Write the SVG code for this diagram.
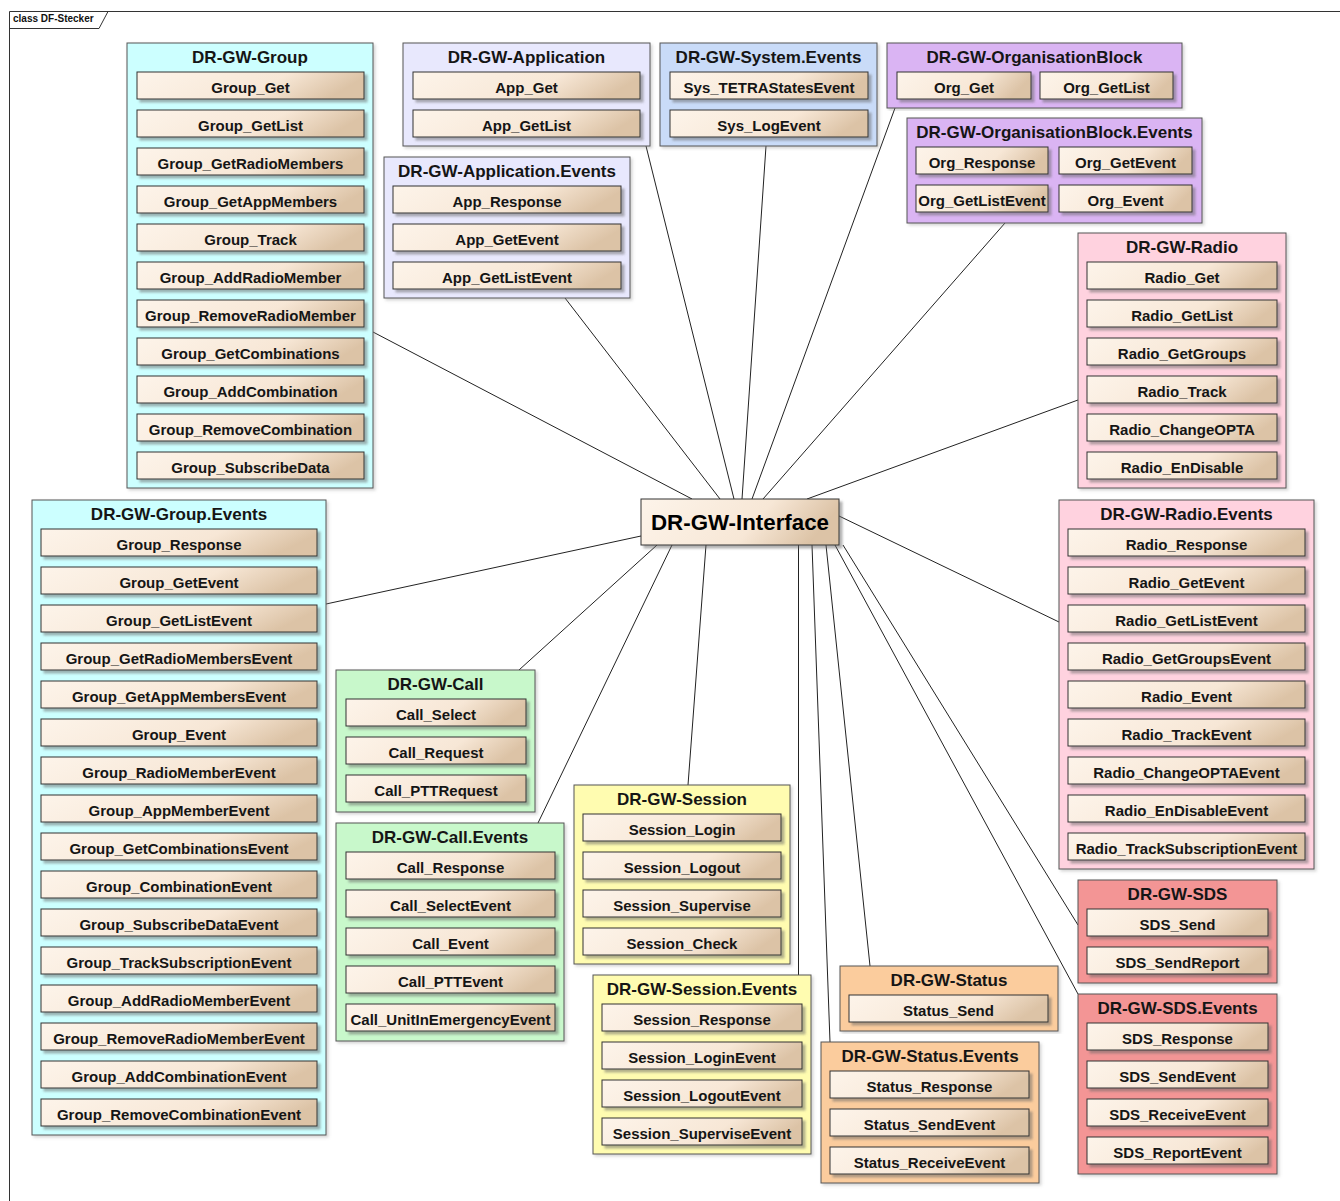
<svg xmlns="http://www.w3.org/2000/svg" width="1340" height="1201" viewBox="0 0 1340 1201">
<defs>
<linearGradient id="ig" x1="0" y1="0" x2="1" y2="0.2">
<stop offset="0" stop-color="#fdf4ea"/>
<stop offset="0.65" stop-color="#f7e7d6"/>
<stop offset="1" stop-color="#dcc3a6"/>
</linearGradient>
<filter id="sh" x="-5%" y="-5%" width="115%" height="130%">
<feDropShadow dx="3" dy="3" stdDeviation="1" flood-color="#666" flood-opacity="0.5"/>
</filter>
<filter id="psh" x="-2%" y="-2%" width="106%" height="106%">
<feDropShadow dx="2" dy="2" stdDeviation="1.5" flood-color="#888" flood-opacity="0.35"/>
</filter>
</defs>
<style>
.it{fill:url(#ig);stroke:#333;stroke-width:1;filter:url(#sh)}
.pk{stroke:#555;stroke-width:1;filter:url(#psh)}
.t{font-family:"Liberation Sans",Arial,sans-serif;font-weight:bold;font-size:15px;fill:#151515;text-anchor:middle}
.h{font-family:"Liberation Sans",Arial,sans-serif;font-weight:bold;font-size:17px;fill:#151515;text-anchor:middle}
.c{stroke:#222;stroke-width:1;fill:none}
.cyan{fill:#ccffff}
.lav{fill:#e8e8fd}
.blu{fill:#c9dbf8}
.vio{fill:#dab4f3}
.pnk{fill:#ffd2df}
.red{fill:#f39595}
.org{fill:#fbcc9d}
.yel{fill:#fffcb0}
.grn{fill:#c8f8cb}
</style>
<rect x="0" y="0" width="1340" height="1201" fill="#ffffff"/>
<g id="frame">
<path d="M9.5,1201 V11.5 H1340" fill="none" stroke="#333" stroke-width="1"/>
<path d="M9.5,28.5 H99 L108,11.5" fill="none" stroke="#333" stroke-width="1"/>
<text x="13" y="22" font-family="Liberation Sans,Arial,sans-serif" font-weight="bold" font-size="10" fill="#111">class DF-Stecker</text>
</g>
<g id="connectors">
<line class="c" x1="373" y1="332" x2="692" y2="499"/>
<line class="c" x1="565" y1="298" x2="720" y2="499"/>
<line class="c" x1="646" y1="146" x2="734" y2="499"/>
<line class="c" x1="766" y1="146" x2="742" y2="499"/>
<line class="c" x1="895" y1="108" x2="752" y2="499"/>
<line class="c" x1="1005" y1="223" x2="763" y2="499"/>
<line class="c" x1="1078" y1="400" x2="807" y2="499"/>
<line class="c" x1="839" y1="516" x2="1059" y2="622"/>
<line class="c" x1="843" y1="545" x2="1078" y2="925"/>
<line class="c" x1="835" y1="545" x2="1078" y2="994"/>
<line class="c" x1="826" y1="545" x2="870" y2="966"/>
<line class="c" x1="812" y1="545" x2="830" y2="1042"/>
<line class="c" x1="798.5" y1="545" x2="798.5" y2="975"/>
<line class="c" x1="706" y1="545" x2="688" y2="785"/>
<line class="c" x1="672" y1="545" x2="538" y2="823"/>
<line class="c" x1="657" y1="545" x2="519" y2="670"/>
<line class="c" x1="641" y1="536" x2="326" y2="604"/>
</g>
<g id="DR-GW-Interface">
<rect class="it" x="641" y="499" width="198" height="46"/>
<text x="740" y="530" font-family="Liberation Sans,Arial,sans-serif" font-weight="bold" font-size="22" fill="#000" text-anchor="middle" textLength="178" lengthAdjust="spacingAndGlyphs">DR-GW-Interface</text>
</g>
<g id="DR-GW-Group">
<rect class="pk cyan" x="127" y="43" width="246" height="445"/>
<text class="h" x="250" y="63">DR-GW-Group</text>
<rect class="it" x="137" y="72" width="227" height="27"/><text class="t" x="250.5" y="93">Group_Get</text>
<rect class="it" x="137" y="110" width="227" height="27"/><text class="t" x="250.5" y="131">Group_GetList</text>
<rect class="it" x="137" y="148" width="227" height="27"/><text class="t" x="250.5" y="169">Group_GetRadioMembers</text>
<rect class="it" x="137" y="186" width="227" height="27"/><text class="t" x="250.5" y="207">Group_GetAppMembers</text>
<rect class="it" x="137" y="224" width="227" height="27"/><text class="t" x="250.5" y="245">Group_Track</text>
<rect class="it" x="137" y="262" width="227" height="27"/><text class="t" x="250.5" y="283">Group_AddRadioMember</text>
<rect class="it" x="137" y="300" width="227" height="27"/><text class="t" x="250.5" y="321">Group_RemoveRadioMember</text>
<rect class="it" x="137" y="338" width="227" height="27"/><text class="t" x="250.5" y="359">Group_GetCombinations</text>
<rect class="it" x="137" y="376" width="227" height="27"/><text class="t" x="250.5" y="397">Group_AddCombination</text>
<rect class="it" x="137" y="414" width="227" height="27"/><text class="t" x="250.5" y="435">Group_RemoveCombination</text>
<rect class="it" x="137" y="452" width="227" height="27"/><text class="t" x="250.5" y="473">Group_SubscribeData</text>
</g>
<g id="DR-GW-Group.Events">
<rect class="pk cyan" x="32" y="500" width="294" height="635"/>
<text class="h" x="179" y="520">DR-GW-Group.Events</text>
<rect class="it" x="41" y="529" width="276" height="27"/><text class="t" x="179" y="550">Group_Response</text>
<rect class="it" x="41" y="567" width="276" height="27"/><text class="t" x="179" y="588">Group_GetEvent</text>
<rect class="it" x="41" y="605" width="276" height="27"/><text class="t" x="179" y="626">Group_GetListEvent</text>
<rect class="it" x="41" y="643" width="276" height="27"/><text class="t" x="179" y="664">Group_GetRadioMembersEvent</text>
<rect class="it" x="41" y="681" width="276" height="27"/><text class="t" x="179" y="702">Group_GetAppMembersEvent</text>
<rect class="it" x="41" y="719" width="276" height="27"/><text class="t" x="179" y="740">Group_Event</text>
<rect class="it" x="41" y="757" width="276" height="27"/><text class="t" x="179" y="778">Group_RadioMemberEvent</text>
<rect class="it" x="41" y="795" width="276" height="27"/><text class="t" x="179" y="816">Group_AppMemberEvent</text>
<rect class="it" x="41" y="833" width="276" height="27"/><text class="t" x="179" y="854">Group_GetCombinationsEvent</text>
<rect class="it" x="41" y="871" width="276" height="27"/><text class="t" x="179" y="892">Group_CombinationEvent</text>
<rect class="it" x="41" y="909" width="276" height="27"/><text class="t" x="179" y="930">Group_SubscribeDataEvent</text>
<rect class="it" x="41" y="947" width="276" height="27"/><text class="t" x="179" y="968">Group_TrackSubscriptionEvent</text>
<rect class="it" x="41" y="985" width="276" height="27"/><text class="t" x="179" y="1006">Group_AddRadioMemberEvent</text>
<rect class="it" x="41" y="1023" width="276" height="27"/><text class="t" x="179" y="1044">Group_RemoveRadioMemberEvent</text>
<rect class="it" x="41" y="1061" width="276" height="27"/><text class="t" x="179" y="1082">Group_AddCombinationEvent</text>
<rect class="it" x="41" y="1099" width="276" height="27"/><text class="t" x="179" y="1120">Group_RemoveCombinationEvent</text>
</g>
<g id="DR-GW-Application">
<rect class="pk lav" x="403" y="43" width="247" height="103"/>
<text class="h" x="526.5" y="63">DR-GW-Application</text>
<rect class="it" x="413" y="72" width="227" height="27"/><text class="t" x="526.5" y="93">App_Get</text>
<rect class="it" x="413" y="110" width="227" height="27"/><text class="t" x="526.5" y="131">App_GetList</text>
</g>
<g id="DR-GW-Application.Events">
<rect class="pk lav" x="384" y="157" width="246" height="141"/>
<text class="h" x="507" y="177">DR-GW-Application.Events</text>
<rect class="it" x="393" y="186" width="228" height="27"/><text class="t" x="507" y="207">App_Response</text>
<rect class="it" x="393" y="224" width="228" height="27"/><text class="t" x="507" y="245">App_GetEvent</text>
<rect class="it" x="393" y="262" width="228" height="27"/><text class="t" x="507" y="283">App_GetListEvent</text>
</g>
<g id="DR-GW-System.Events">
<rect class="pk blu" x="660" y="43" width="217" height="103"/>
<text class="h" x="768.5" y="63">DR-GW-System.Events</text>
<rect class="it" x="670" y="72" width="198" height="27"/><text class="t" x="769" y="93">Sys_TETRAStatesEvent</text>
<rect class="it" x="670" y="110" width="198" height="27"/><text class="t" x="769" y="131">Sys_LogEvent</text>
</g>
<g id="DR-GW-OrganisationBlock">
<rect class="pk vio" x="887" y="43" width="295" height="65"/>
<text class="h" x="1034.5" y="63">DR-GW-OrganisationBlock</text>
<rect class="it" x="897" y="72" width="134" height="27"/><text class="t" x="964" y="93">Org_Get</text>
<rect class="it" x="1040" y="72" width="133" height="27"/><text class="t" x="1106.5" y="93">Org_GetList</text>
</g>
<g id="DR-GW-OrganisationBlock.Events">
<rect class="pk vio" x="907" y="118" width="295" height="105"/>
<text class="h" x="1054.5" y="138">DR-GW-OrganisationBlock.Events</text>
<rect class="it" x="916" y="147" width="132" height="27"/><text class="t" x="982" y="168">Org_Response</text>
<rect class="it" x="1059" y="147" width="133" height="27"/><text class="t" x="1125.5" y="168">Org_GetEvent</text>
<rect class="it" x="916" y="185" width="132" height="27"/><text class="t" x="982" y="206">Org_GetListEvent</text>
<rect class="it" x="1059" y="185" width="133" height="27"/><text class="t" x="1125.5" y="206">Org_Event</text>
</g>
<g id="DR-GW-Radio">
<rect class="pk pnk" x="1078" y="233" width="208" height="255"/>
<text class="h" x="1182" y="253">DR-GW-Radio</text>
<rect class="it" x="1087" y="262" width="190" height="27"/><text class="t" x="1182" y="283">Radio_Get</text>
<rect class="it" x="1087" y="300" width="190" height="27"/><text class="t" x="1182" y="321">Radio_GetList</text>
<rect class="it" x="1087" y="338" width="190" height="27"/><text class="t" x="1182" y="359">Radio_GetGroups</text>
<rect class="it" x="1087" y="376" width="190" height="27"/><text class="t" x="1182" y="397">Radio_Track</text>
<rect class="it" x="1087" y="414" width="190" height="27"/><text class="t" x="1182" y="435">Radio_ChangeOPTA</text>
<rect class="it" x="1087" y="452" width="190" height="27"/><text class="t" x="1182" y="473">Radio_EnDisable</text>
</g>
<g id="DR-GW-Radio.Events">
<rect class="pk pnk" x="1059" y="500" width="255" height="369"/>
<text class="h" x="1186.5" y="520">DR-GW-Radio.Events</text>
<rect class="it" x="1068" y="529" width="237" height="27"/><text class="t" x="1186.5" y="550">Radio_Response</text>
<rect class="it" x="1068" y="567" width="237" height="27"/><text class="t" x="1186.5" y="588">Radio_GetEvent</text>
<rect class="it" x="1068" y="605" width="237" height="27"/><text class="t" x="1186.5" y="626">Radio_GetListEvent</text>
<rect class="it" x="1068" y="643" width="237" height="27"/><text class="t" x="1186.5" y="664">Radio_GetGroupsEvent</text>
<rect class="it" x="1068" y="681" width="237" height="27"/><text class="t" x="1186.5" y="702">Radio_Event</text>
<rect class="it" x="1068" y="719" width="237" height="27"/><text class="t" x="1186.5" y="740">Radio_TrackEvent</text>
<rect class="it" x="1068" y="757" width="237" height="27"/><text class="t" x="1186.5" y="778">Radio_ChangeOPTAEvent</text>
<rect class="it" x="1068" y="795" width="237" height="27"/><text class="t" x="1186.5" y="816">Radio_EnDisableEvent</text>
<rect class="it" x="1068" y="833" width="237" height="27"/><text class="t" x="1186.5" y="854">Radio_TrackSubscriptionEvent</text>
</g>
<g id="DR-GW-SDS">
<rect class="pk red" x="1078" y="880" width="199" height="103"/>
<text class="h" x="1177.5" y="900">DR-GW-SDS</text>
<rect class="it" x="1087" y="909" width="181" height="27"/><text class="t" x="1177.5" y="930">SDS_Send</text>
<rect class="it" x="1087" y="947" width="181" height="27"/><text class="t" x="1177.5" y="968">SDS_SendReport</text>
</g>
<g id="DR-GW-SDS.Events">
<rect class="pk red" x="1078" y="994" width="199" height="180"/>
<text class="h" x="1177.5" y="1014">DR-GW-SDS.Events</text>
<rect class="it" x="1087" y="1023" width="181" height="27"/><text class="t" x="1177.5" y="1044">SDS_Response</text>
<rect class="it" x="1087" y="1061" width="181" height="27"/><text class="t" x="1177.5" y="1082">SDS_SendEvent</text>
<rect class="it" x="1087" y="1099" width="181" height="27"/><text class="t" x="1177.5" y="1120">SDS_ReceiveEvent</text>
<rect class="it" x="1087" y="1137" width="181" height="27"/><text class="t" x="1177.5" y="1158">SDS_ReportEvent</text>
</g>
<g id="DR-GW-Status">
<rect class="pk org" x="840" y="966" width="218" height="65"/>
<text class="h" x="949" y="986">DR-GW-Status</text>
<rect class="it" x="849" y="995" width="199" height="27"/><text class="t" x="948.5" y="1016">Status_Send</text>
</g>
<g id="DR-GW-Status.Events">
<rect class="pk org" x="821" y="1042" width="218" height="141"/>
<text class="h" x="930" y="1062">DR-GW-Status.Events</text>
<rect class="it" x="830" y="1071" width="199" height="27"/><text class="t" x="929.5" y="1092">Status_Response</text>
<rect class="it" x="830" y="1109" width="199" height="27"/><text class="t" x="929.5" y="1130">Status_SendEvent</text>
<rect class="it" x="830" y="1147" width="199" height="27"/><text class="t" x="929.5" y="1168">Status_ReceiveEvent</text>
</g>
<g id="DR-GW-Session">
<rect class="pk yel" x="574" y="785" width="216" height="179"/>
<text class="h" x="682" y="805">DR-GW-Session</text>
<rect class="it" x="583" y="814" width="198" height="27"/><text class="t" x="682" y="835">Session_Login</text>
<rect class="it" x="583" y="852" width="198" height="27"/><text class="t" x="682" y="873">Session_Logout</text>
<rect class="it" x="583" y="890" width="198" height="27"/><text class="t" x="682" y="911">Session_Supervise</text>
<rect class="it" x="583" y="928" width="198" height="27"/><text class="t" x="682" y="949">Session_Check</text>
</g>
<g id="DR-GW-Session.Events">
<rect class="pk yel" x="593" y="975" width="218" height="179"/>
<text class="h" x="702" y="995">DR-GW-Session.Events</text>
<rect class="it" x="602" y="1004" width="200" height="27"/><text class="t" x="702" y="1025">Session_Response</text>
<rect class="it" x="602" y="1042" width="200" height="27"/><text class="t" x="702" y="1063">Session_LoginEvent</text>
<rect class="it" x="602" y="1080" width="200" height="27"/><text class="t" x="702" y="1101">Session_LogoutEvent</text>
<rect class="it" x="602" y="1118" width="200" height="27"/><text class="t" x="702" y="1139">Session_SuperviseEvent</text>
</g>
<g id="DR-GW-Call">
<rect class="pk grn" x="336" y="670" width="199" height="142"/>
<text class="h" x="435.5" y="690">DR-GW-Call</text>
<rect class="it" x="346" y="699" width="180" height="27"/><text class="t" x="436" y="720">Call_Select</text>
<rect class="it" x="346" y="737" width="180" height="27"/><text class="t" x="436" y="758">Call_Request</text>
<rect class="it" x="346" y="775" width="180" height="27"/><text class="t" x="436" y="796">Call_PTTRequest</text>
</g>
<g id="DR-GW-Call.Events">
<rect class="pk grn" x="336" y="823" width="228" height="218"/>
<text class="h" x="450" y="843">DR-GW-Call.Events</text>
<rect class="it" x="346" y="852" width="209" height="27"/><text class="t" x="450.5" y="873">Call_Response</text>
<rect class="it" x="346" y="890" width="209" height="27"/><text class="t" x="450.5" y="911">Call_SelectEvent</text>
<rect class="it" x="346" y="928" width="209" height="27"/><text class="t" x="450.5" y="949">Call_Event</text>
<rect class="it" x="346" y="966" width="209" height="27"/><text class="t" x="450.5" y="987">Call_PTTEvent</text>
<rect class="it" x="346" y="1004" width="209" height="27"/><text class="t" x="450.5" y="1025">Call_UnitInEmergencyEvent</text>
</g>
</svg>
